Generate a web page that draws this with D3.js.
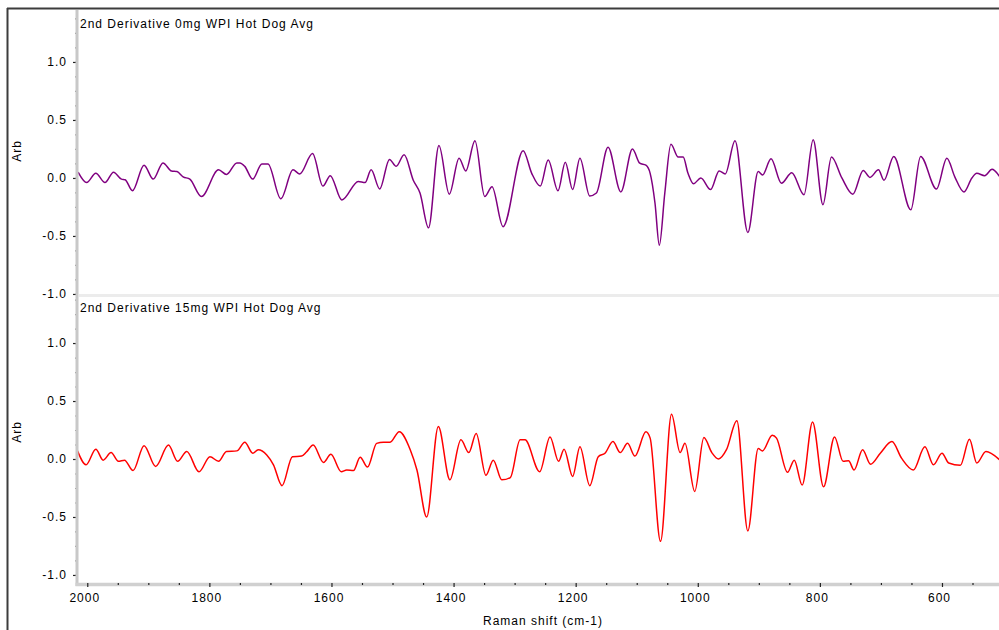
<!DOCTYPE html>
<html>
<head>
<meta charset="utf-8">
<script src="https://cdn.jsdelivr.net/npm/d3@7"></script>
<style>
  html, body { margin: 0; padding: 0; background: #fff; }
  svg { display: block; }
  text { font-family: "Liberation Sans", Arial, sans-serif; font-size: 12px; letter-spacing: 1px; fill: #000; }
</style>
</head>
<body>
<svg id="chart" width="999" height="630"></svg>
<script>
// Raman shift (cm-1) and 2nd-derivative intensity for the 0 mg WPI average
const shift0 = [2015,2001,1986,1971,1957,1944,1938,1926,1907,1892,1876,1862,1853,1843,1832,1813,1785,1772,1755,1750,1742,1729,1714,1704,1683,1663,1652,1631,1614,1602,1583,1556,1545,1535,1521,1505,1494,1481,1466,1455,1441,1424,1407,1391,1380,1365,1349,1337,1319,1286,1272,1258,1245,1229,1217,1205,1193,1177,1166,1147,1126,1107,1095,1085,1078,1070,1063,1054,1044,1032,1024,1016,1007,995,979,965,955,939,918,901,894,880,863,846,826,811,795,781,764,746,729,718,704,695,679,651,635,609,592,579,564,551,543,530,518,506];
const deriv0 = [0.05,-0.04,0.04,-0.04,0.05,-0.01,-0.015,-0.11,0.11,-0.01,0.13,0.06,0.055,0.01,-0.01,-0.16,0.07,0.03,0.13,0.13,0.10,-0.01,0.12,0.12,-0.18,0.07,0.035,0.21,-0.07,0.02,-0.19,-0.03,-0.04,0.07,-0.095,0.16,0.10,0.20,-0.02,-0.13,-0.43,0.28,-0.14,0.17,0.06,0.32,-0.16,-0.075,-0.42,0.235,0.04,-0.07,0.155,-0.11,0.135,-0.10,0.17,-0.155,-0.13,0.265,-0.12,0.25,0.127,0.11,0.04,-0.22,-0.58,-0.13,0.29,0.18,0.18,0.04,-0.05,0.0,-0.10,0.06,0.035,0.32,-0.47,0.055,0.025,0.165,-0.045,0.045,-0.145,0.33,-0.23,0.18,0.0,-0.14,0.065,0.005,0.07,-0.02,0.185,-0.275,0.185,-0.095,0.17,0.01,-0.12,0.0,0.04,0.02,0.075,0.015];

// Raman shift (cm-1) and 2nd-derivative intensity for the 15 mg WPI average
const shift15 = [2016,2002,1986,1974,1961,1949,1939,1925,1907,1888,1867,1852,1837,1817,1799,1785,1772,1755,1742,1729,1720,1706,1695,1681,1664,1649,1641,1630,1613,1601,1584,1575,1564,1553,1541,1526,1515,1504,1489,1471,1460,1444,1425,1406,1388,1375,1363,1347,1335,1321,1307,1291,1283,1259,1242,1228,1219,1205,1193,1177,1163,1152,1139,1127,1115,1103,1085,1078,1061,1043,1029,1021,1005,990,977,966,953,936,918,901,894,878,871,853,842,829,812,794,776,762,753,744,730,717,701,682,666,647,628,614,600,589,570,555,543,528,506];
const deriv15 = [0.07,-0.05,0.085,-0.01,0.055,-0.02,-0.01,-0.10,0.115,-0.065,0.12,-0.02,0.065,-0.11,0.02,-0.02,0.065,0.07,0.145,0.05,0.08,0.035,-0.05,-0.23,0.02,0.025,0.06,0.12,-0.03,0.04,-0.11,-0.095,-0.10,0.015,-0.07,0.135,0.145,0.145,0.235,0.08,-0.095,-0.50,0.28,-0.18,0.165,0.055,0.22,-0.14,-0.01,-0.18,-0.16,0.165,0.165,-0.11,0.19,-0.02,0.085,-0.15,0.105,-0.23,0.02,0.05,0.15,0.055,0.135,0.025,0.235,0.18,-0.71,0.385,0.055,0.135,-0.28,0.185,0.055,0.0,0.08,0.33,-0.62,0.09,0.07,0.205,0.18,-0.115,-0.01,-0.225,0.32,-0.24,0.19,-0.02,-0.015,-0.095,0.08,-0.045,0.05,0.15,0.005,-0.095,0.105,-0.05,0.05,-0.035,-0.055,0.17,-0.035,0.065,-0.005];

// Axis labels and panel titles
const xTickValues = [2000, 1800, 1600, 1400, 1200, 1000, 800, 600];
const yTickValues = [1.0, 0.5, 0.0, -0.5, -1.0];
const panelTitles = ["2nd Derivative 0mg WPI Hot Dog Avg", "2nd Derivative 15mg WPI Hot Dog Avg"];
const lineColors = ["#800080", "#ff0000"];
const xLabel = "Raman shift (cm-1)";
const yLabel = "Arb";

const svg = d3.select("#chart");

// Outer frame (top and left edges visible)
svg.append("line").attr("x1", 7).attr("x2", 999).attr("y1", 8.5).attr("y2", 8.5)
  .attr("stroke", "#3c3c3c").attr("stroke-width", 2);
svg.append("line").attr("x1", 7.5).attr("x2", 7.5).attr("y1", 8).attr("y2", 630)
  .attr("stroke", "#3c3c3c").attr("stroke-width", 2);

const plotLeft = 77, plotRight = 999;
const x = d3.scaleLinear().domain([2016, 506.6]).range([plotLeft + 0.5, plotRight]);

// Each panel: pixel extent and value domain
const panels = [
  { top: 10, bottom: 295, domain: [-1.009, 1.448], shift: shift0, deriv: deriv0, titleY: 27.5, ylabY: 151 },
  { top: 297, bottom: 584, domain: [-1.078, 1.397], shift: shift15, deriv: deriv15, titleY: 311.5, ylabY: 432 }
];

svg.append("defs").append("clipPath").attr("id", "plotclip")
  .append("rect").attr("x", plotLeft + 1).attr("y", 9).attr("width", plotRight - plotLeft).attr("height", 576);

// Panel separator
svg.append("line").attr("x1", plotLeft + 2).attr("x2", plotRight).attr("y1", 295.5).attr("y2", 295.5)
  .attr("stroke", "#ececec").attr("stroke-width", 3);

// one decimal, plain hyphen for negatives
const fmt = v => (v < 0 ? "-" : "") + Math.abs(v).toFixed(1);

panels.forEach((p, i) => {
  const y = d3.scaleLinear().domain(p.domain).range([p.bottom, p.top]);

  // Y axis: small dark ticks on the grey spine
  const yMinor = d3.range(-1.0, p.domain[1], 0.125).filter(v => v >= p.domain[0]);
  const gMinor = svg.append("g").attr("transform", `translate(${plotLeft},0)`)
    .call(d3.axisLeft(y).tickValues(yMinor).tickFormat("").tickSizeInner(1.5).tickSizeOuter(0));
  gMinor.select(".domain").remove();
  gMinor.selectAll(".tick line").attr("stroke", "#222").attr("stroke-width", 1.2);

  const gy = svg.append("g").attr("transform", `translate(${plotLeft},0)`)
    .call(d3.axisLeft(y).tickValues(yTickValues).tickFormat(fmt).tickSizeInner(4).tickSizeOuter(0).tickPadding(5));
  gy.select(".domain").remove();
  gy.selectAll(".tick line").attr("stroke", "#222").attr("stroke-width", 1.2);
  gy.selectAll(".tick text").attr("font-family", null).attr("font-size", null).attr("dx", "-1");

  // Y label
  svg.append("text")
    .attr("transform", `translate(21,${p.ylabY}) rotate(-90)`)
    .attr("text-anchor", "middle")
    .text(yLabel);

  // Panel title
  svg.append("text").attr("x", 80).attr("y", p.titleY).text(panelTitles[i]);

  // Spectrum
  const line = d3.line()
    .x((d, k) => x(p.shift[k]))
    .y(d => y(d))
    .curve(d3.curveMonotoneX);
  svg.append("path")
    .datum(p.deriv)
    .attr("clip-path", "url(#plotclip)")
    .attr("fill", "none")
    .attr("stroke", lineColors[i])
    .attr("stroke-width", 1.5)
    .attr("stroke-linejoin", "round")
    .attr("d", line);
});

// Y spine across both panels
svg.append("line").attr("x1", plotLeft).attr("x2", plotLeft).attr("y1", 10).attr("y2", 586)
  .attr("stroke", "#c8c8c8").attr("stroke-width", 3);

// X axis: grey spine, minor ticks every 50, labelled ticks every 200
const xAxisY = 584.5;
svg.append("line").attr("x1", plotLeft - 1.5).attr("x2", plotRight).attr("y1", xAxisY).attr("y2", xAxisY)
  .attr("stroke", "#d0d0d0").attr("stroke-width", 3.5);

const xMinor = d3.range(550, 2001, 50).filter(v => !xTickValues.includes(v));
const gxMinor = svg.append("g").attr("transform", `translate(0,${xAxisY - 1.5})`)
  .call(d3.axisBottom(x).tickValues(xMinor).tickFormat("").tickSizeInner(2).tickSizeOuter(0));
gxMinor.select(".domain").remove();
gxMinor.selectAll(".tick line").attr("stroke", "#222").attr("stroke-width", 1.2);

const gx = svg.append("g").attr("transform", `translate(0,${xAxisY - 1.5})`)
  .call(d3.axisBottom(x).tickValues(xTickValues).tickFormat(d3.format("d")).tickSizeInner(4).tickSizeOuter(0).tickPadding(6));
gx.select(".domain").remove();
gx.selectAll(".tick line").attr("stroke", "#222").attr("stroke-width", 1.2);
gx.selectAll(".tick text").attr("font-family", null).attr("font-size", null).attr("dx", "-3");

svg.append("text").attr("x", 543).attr("y", 624.5).attr("text-anchor", "middle").text(xLabel);
</script>
</body>
</html>
